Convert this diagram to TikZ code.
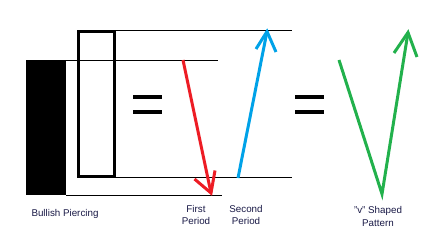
\documentclass[tikz,border=0pt]{standalone}
\usepackage{fontspec}
\setmainfont{Liberation Sans}
\usetikzlibrary{positioning}
\definecolor{paintRed}{RGB}{237,28,36}
\definecolor{paintBlue}{RGB}{0,162,232}
\definecolor{paintGreen}{RGB}{34,177,76}
\definecolor{labelInk}{RGB}{25,25,70}
\tikzstyle{levelline}=[line width=1pt, color=black]
\tikzstyle{candlebox}=[line width=3pt, color=black]
\tikzstyle{eqbar}=[line width=3.2pt, color=black]
\tikzstyle{movedown}=[line width=3pt, color=paintRed]
\tikzstyle{moveup}=[line width=3pt, color=paintBlue]
\tikzstyle{vmove}=[line width=3pt, color=paintGreen, line join=miter]
\tikzstyle{caption}=[font=\fontsize{9.8}{12.5}\selectfont, color=labelInk, align=center]

\begin{document}
\begin{tikzpicture}[x=1pt, y=-1pt]
    \useasboundingbox (0,0) rectangle (433,237);

    % Velas
    \fill[black] (26,60) rectangle (66,195.5);
    \draw[candlebox] (78,31.5) rectangle (114,177);

    % Níveis de preço
    \coordinate (hiL) at (114,31);   \coordinate (hiR) at (292,31);
    \coordinate (opL) at (66,60.3);  \coordinate (opR) at (218,60.3);
    \coordinate (loL) at (114,177.8); \coordinate (loR) at (292,177.8);
    \coordinate (clL) at (66,195.2); \coordinate (clR) at (222,195.2);
    \draw[levelline] (hiL) -- (hiR);
    \draw[levelline] (opL) -- (opR);
    \draw[levelline] (loL) -- (loR);
    \draw[levelline] (clL) -- (clR);

    % Sinais de igual
    \draw[eqbar] (133,97) -- (162,97);
    \draw[eqbar] (133,112) -- (162,112);
    \draw[eqbar] (295,97) -- (324,97);
    \draw[eqbar] (295,112) -- (324,112);

    % Primeiro período (queda)
    \coordinate (a0) at (183,60);
    \coordinate (a1) at (211,193);
    \draw[movedown] (a0) -- (a1);
    \draw[movedown] (194.5,179) -- (a1) -- (215,170.5);

    % Segundo período (alta)
    \coordinate (b0) at (238,178);
    \coordinate (b1) at (267,31.5);
    \draw[moveup] (b0) -- (b1);
    \draw[moveup] (256,49) -- (b1) -- (276,52);

    % Padrão em V
    \coordinate (v0) at (339,60);
    \coordinate (v1) at (382,194);
    \coordinate (v2) at (408,32.5);
    \draw[vmove] (v0) -- (v1) -- (v2);
    \draw[vmove] (394,53) -- (v2) -- (417,57);

    % Rótulos
    \node[caption] (bp) at (65,214) {Bullish Piercing};
    \node[caption] (fp) at (196,215) {First\\Period};
    \node[caption] (sp) at (246,215) {Second\\Period};
    \node[caption] (vp) at (378,216.5) {"v" Shaped\\Pattern};
  \end{tikzpicture}
\end{document}
